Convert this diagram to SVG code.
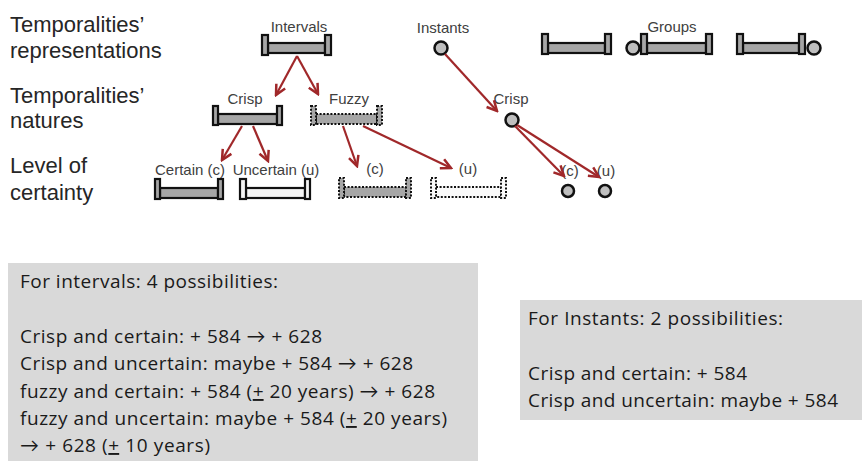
<svg xmlns="http://www.w3.org/2000/svg" width="865" height="461" viewBox="0 0 865 461">
<style>
.cap{fill:#a6a6a6;stroke:#111;stroke-width:2.2}
.bar{fill:#a6a6a6;stroke:#111;stroke-width:2.2}
.w{fill:#f4f4f4}
.dot{fill:#a6a6a6;stroke:#111;stroke-width:2;stroke-dasharray:2 1.6}
.dotw{fill:#fafafa;stroke:#111;stroke-width:2;stroke-dasharray:2 1.6}
.pt{fill:#bfbfbf;stroke:#111;stroke-width:2.5}
.lbl{font-family:"Liberation Sans",Arial,sans-serif;font-size:15px;fill:#404040;text-anchor:middle}
.row{font-family:"Liberation Sans",Arial,sans-serif;font-size:22px;fill:#262626}
.box{fill:#d9d9d9}
.bt{font-family:"Open Sans",Lato,sans-serif;font-size:19px;fill:#1a1a1a}
.u{text-decoration:underline}
.arr{stroke:#a0282a;stroke-width:2.2;fill:none;marker-end:url(#ah)}
</style>
<defs>
<marker id="ah" markerUnits="userSpaceOnUse" markerWidth="14" markerHeight="14" viewBox="-12 -7 14 14" refX="0" refY="0" orient="auto">
<path d="M-10,-5 L0,0 L-10,5" stroke="#a0282a" stroke-width="2.5" fill="none"/>
</marker>
</defs>
<rect width="865" height="461" fill="#fff"/>

<g id="row-labels">
<text class="row" x="10" y="32">Temporalities’</text>
<text class="row" x="10" y="58">representations</text>
<text class="row" x="10" y="103">Temporalities’</text>
<text class="row" x="10" y="128">natures</text>
<text class="row" x="10" y="173">Level of</text>
<text class="row" x="10" y="200">certainty</text>
</g>

<g id="intervals">
<text class="lbl" x="299" y="32">Intervals</text>
<rect class="bar" x="268" y="43" width="57" height="10"/>
<rect class="cap" x="262" y="35" width="6" height="20"/>
<rect class="cap" x="325" y="35" width="6" height="20"/>
</g>

<g id="instants">
<text class="lbl" x="443" y="33">Instants</text>
<circle class="pt" cx="441" cy="48" r="6.5"/>
</g>

<g id="groups">
<text class="lbl" x="672" y="32">Groups</text>
<rect class="bar" x="548" y="43" width="57" height="10"/>
<rect class="cap" x="542" y="34" width="6" height="20"/>
<rect class="cap" x="605" y="34" width="6" height="20"/>
<circle class="pt" cx="633" cy="48" r="6.5"/>
<rect class="bar" x="647" y="43" width="59" height="10"/>
<rect class="cap" x="641" y="34" width="6" height="20"/>
<rect class="cap" x="706" y="34" width="6" height="20"/>
<rect class="bar" x="743" y="43" width="56" height="10"/>
<rect class="cap" x="737" y="34" width="6" height="20"/>
<rect class="cap" x="799" y="34" width="6" height="20"/>
<circle class="pt" cx="814" cy="48" r="6.5"/>
</g>

<g id="interval-crisp">
<text class="lbl" x="245" y="104">Crisp</text>
<rect class="bar" x="218" y="114" width="59" height="10"/>
<rect class="cap" x="213" y="106" width="5" height="19"/>
<rect class="cap" x="277" y="106" width="5" height="19"/>
</g>

<g id="interval-fuzzy">
<text class="lbl" x="349" y="104">Fuzzy</text>
<rect class="dot" x="316" y="114" width="61" height="10"/>
<rect class="dot" x="311" y="106" width="5" height="19"/>
<rect class="dot" x="377" y="106" width="5" height="19"/>
</g>

<g id="instant-crisp">
<text class="lbl" x="511" y="104">Crisp</text>
<circle class="pt" cx="512" cy="120" r="6.5"/>
</g>

<g id="crisp-certain">
<text class="lbl" x="190" y="175">Certain (c)</text>
<rect class="bar" x="160" y="188" width="58" height="10"/>
<rect class="cap" x="155" y="179" width="5" height="20"/>
<rect class="cap" x="218" y="179" width="5" height="20"/>
</g>

<g id="crisp-uncertain">
<text class="lbl" x="276" y="175">Uncertain (u)</text>
<rect class="bar w" x="246" y="188" width="59" height="10"/>
<rect class="cap w" x="240" y="179" width="6" height="20"/>
<rect class="cap w" x="305" y="179" width="5" height="20"/>
</g>

<g id="fuzzy-certain">
<text class="lbl" x="375" y="174">(c)</text>
<rect class="dot" x="344" y="187" width="62" height="10"/>
<rect class="dot" x="339" y="178" width="5" height="20"/>
<rect class="dot" x="406" y="178" width="5" height="20"/>
</g>

<g id="fuzzy-uncertain">
<text class="lbl" x="468" y="174">(u)</text>
<rect class="dotw" x="436" y="187" width="65" height="10"/>
<rect class="dotw" x="431" y="178" width="5" height="20"/>
<rect class="dotw" x="501" y="178" width="5" height="20"/>
</g>

<g id="instant-certain">
<text class="lbl" x="570" y="176">(c)</text>
<circle class="pt" cx="568" cy="191" r="6"/>
</g>

<g id="instant-uncertain">
<text class="lbl" x="606" y="176">(u)</text>
<circle class="pt" cx="605" cy="191" r="6"/>
</g>

<g id="connectors">
<line class="arr" x1="297" y1="56" x2="276" y2="95"/>
<line class="arr" x1="297" y1="56" x2="318" y2="94"/>
<line class="arr" x1="242" y1="126" x2="222" y2="160"/>
<line class="arr" x1="253" y1="126" x2="268" y2="161"/>
<line class="arr" x1="343" y1="126" x2="357" y2="166"/>
<line class="arr" x1="363" y1="126" x2="451" y2="168"/>
<line class="arr" x1="445" y1="54" x2="497" y2="111"/>
<line class="arr" x1="515" y1="126" x2="564" y2="176"/>
<line class="arr" x1="517" y1="125" x2="599" y2="177"/>
</g>

<g id="intervals-box">
<rect class="box" x="8" y="263" width="470" height="198"/>
<text class="bt" x="20" y="288" textLength="258">For intervals: 4 possibilities:</text>
<text class="bt" x="20" y="343" textLength="302">Crisp and certain: + 584 → + 628</text>
<text class="bt" x="20" y="370" textLength="393">Crisp and uncertain: maybe + 584 → + 628</text>
<text class="bt" x="20" y="398" textLength="415">fuzzy and certain: + 584 (<tspan class="u">+</tspan> 20 years) → + 628</text>
<text class="bt" x="20" y="425" textLength="427">fuzzy and uncertain: maybe + 584 (<tspan class="u">+</tspan> 20 years)</text>
<text class="bt" x="20" y="452" textLength="190">→ + 628 (<tspan class="u">+</tspan> 10 years)</text>
</g>

<g id="instants-box">
<rect class="box" x="520" y="300" width="342" height="120"/>
<text class="bt" x="528" y="325" textLength="255">For Instants: 2 possibilities:</text>
<text class="bt" x="528" y="380" textLength="219">Crisp and certain: + 584</text>
<text class="bt" x="528" y="407" textLength="310">Crisp and uncertain: maybe + 584</text>
</g>
</svg>
